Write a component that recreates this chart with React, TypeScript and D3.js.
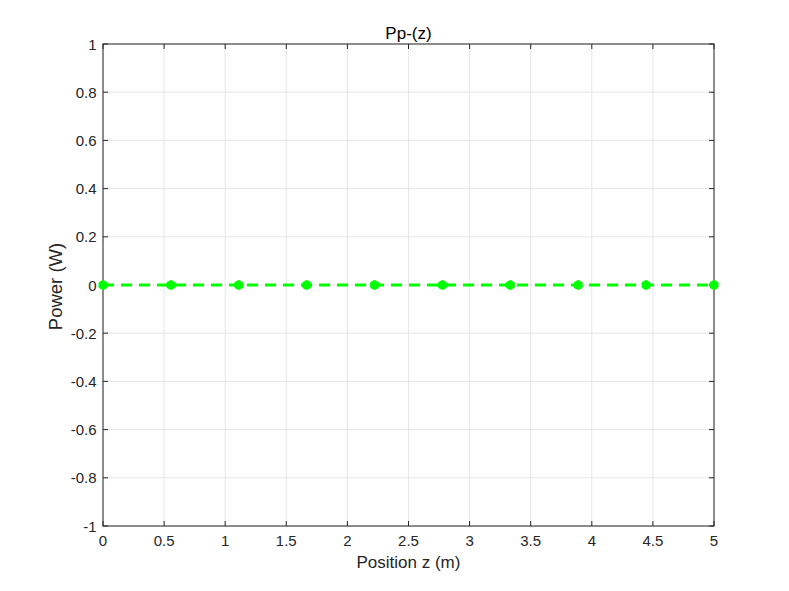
import * as d3 from "d3";

const positions = [0, 0.5556, 1.1111, 1.6667, 2.2222, 2.7778, 3.3333, 3.8889, 4.4444, 5];
const powers = [0, 0, 0, 0, 0, 0, 0, 0, 0, 0];
const xTicks = [0, 0.5, 1, 1.5, 2, 2.5, 3, 3.5, 4, 4.5, 5];
const yTicks = [-1, -0.8, -0.6, -0.4, -0.2, 0, 0.2, 0.4, 0.6, 0.8, 1];

const width = 789;
const height = 591;
const plot = { left: 103, right: 714, top: 44, bottom: 526 };
const font = "Helvetica, Arial, 'Liberation Sans', sans-serif";
const green = "#00ff00";
const axisColor = "#262626";

export default function App(): React.JSX.Element {
  const x = d3.scaleLinear().domain([0, 5]).range([plot.left, plot.right]);
  const y = d3.scaleLinear().domain([-1, 1]).range([plot.bottom, plot.top]);
  const points = positions.map((p, i) => [p, powers[i]] as [number, number]);
  const path =
    d3
      .line<[number, number]>()
      .x(([px]) => x(px))
      .y(([, py]) => y(py))(points) ?? "";
  const asterisk = d3.symbol(d3.symbolAsterisk, 64)() ?? "";
  const tickLen = 5;

  return (
    <svg
      width={width}
      height={height}
      style={{ position: "absolute", left: 0, top: 0, background: "#fff" }}
    >
      <rect x={0} y={0} width={width} height={height} fill="#fff" />
      {/* grid */}
      {xTicks.map((t) => (
        <line
          key={`gx${t}`}
          x1={x(t)}
          x2={x(t)}
          y1={plot.top}
          y2={plot.bottom}
          stroke="#e6e6e6"
          strokeWidth={1}
        />
      ))}
      {yTicks.map((t) => (
        <line
          key={`gy${t}`}
          x1={plot.left}
          x2={plot.right}
          y1={y(t)}
          y2={y(t)}
          stroke="#e6e6e6"
          strokeWidth={1}
        />
      ))}
      {/* ticks on all sides */}
      {xTicks.map((t) => (
        <g key={`tx${t}`} stroke={axisColor} strokeWidth={1}>
          <line x1={x(t)} x2={x(t)} y1={plot.bottom} y2={plot.bottom - tickLen} />
          <line x1={x(t)} x2={x(t)} y1={plot.top} y2={plot.top + tickLen} />
        </g>
      ))}
      {yTicks.map((t) => (
        <g key={`ty${t}`} stroke={axisColor} strokeWidth={1}>
          <line x1={plot.left} x2={plot.left + tickLen} y1={y(t)} y2={y(t)} />
          <line x1={plot.right} x2={plot.right - tickLen} y1={y(t)} y2={y(t)} />
        </g>
      ))}
      <rect
        x={plot.left}
        y={plot.top}
        width={plot.right - plot.left}
        height={plot.bottom - plot.top}
        fill="none"
        stroke={axisColor}
        strokeWidth={1}
      />
      {/* data */}
      <path d={path} fill="none" stroke={green} strokeWidth={3} strokeDasharray="11 7" />
      {points.map(([px, py]) => (
        <g key={`m${px}`} transform={`translate(${x(px)},${y(py)})`}>
          <circle r={4.5} fill={green} />
          <path d={asterisk} fill="none" stroke={green} strokeWidth={2.5} />
        </g>
      ))}
      {/* tick labels */}
      {xTicks.map((t) => (
        <text
          key={`lx${t}`}
          x={x(t)}
          y={546}
          textAnchor="middle"
          fontFamily={font}
          fontSize={15}
          fill={axisColor}
        >
          {t}
        </text>
      ))}
      {yTicks.map((t) => (
        <text
          key={`ly${t}`}
          x={plot.left - 6.5}
          y={y(t) + 5.5}
          textAnchor="end"
          fontFamily={font}
          fontSize={15}
          fill={axisColor}
        >
          {t}
        </text>
      ))}
      {/* titles */}
      <text
        x={(plot.left + plot.right) / 2}
        y={39}
        textAnchor="middle"
        fontFamily={font}
        fontSize={17}
        fill="#000"
      >
        Pp-(z)
      </text>
      <text
        x={(plot.left + plot.right) / 2}
        y={568}
        textAnchor="middle"
        fontFamily={font}
        fontSize={17}
        fill={axisColor}
      >
        Position z (m)
      </text>
      <text
        transform={`translate(61.5,286.5) rotate(-90)`}
        textAnchor="middle"
        fontFamily={font}
        fontSize={18.5}
        fill={axisColor}
      >
        Power (W)
      </text>
    </svg>
  );
}
